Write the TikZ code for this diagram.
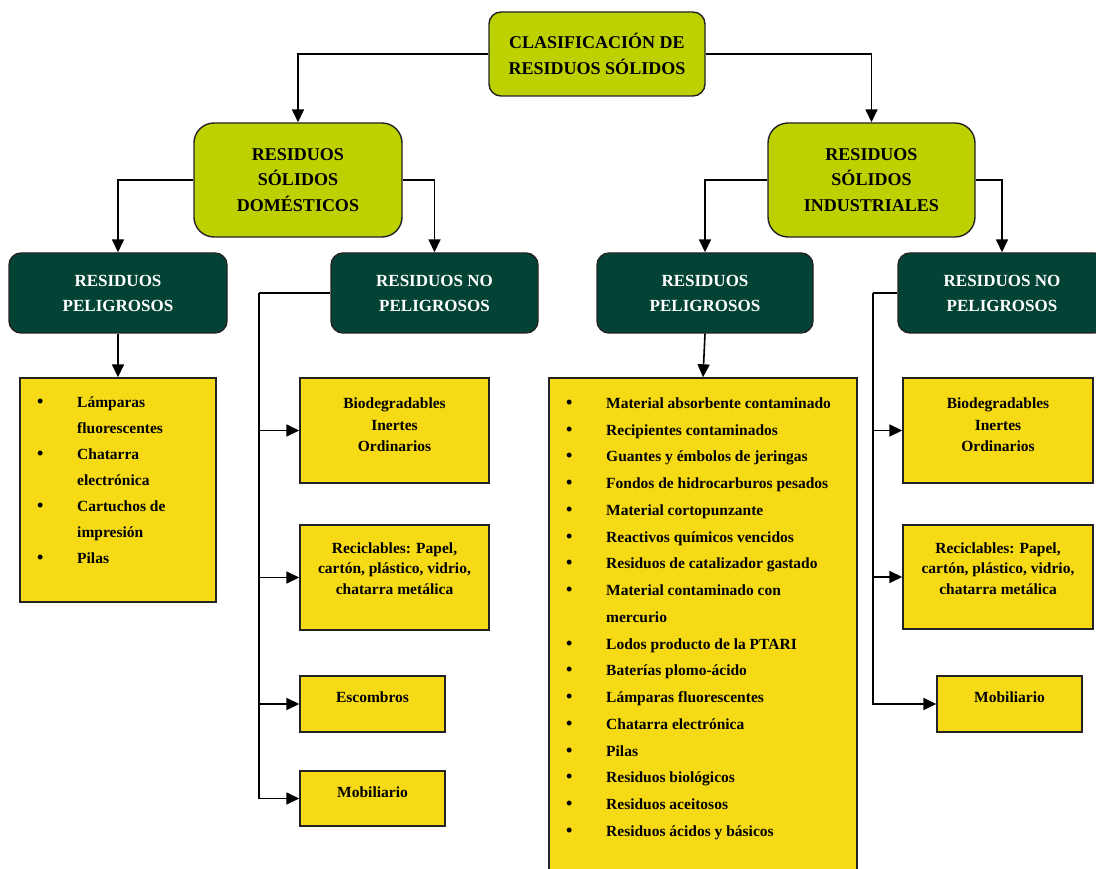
\documentclass[tikz,border=0pt]{standalone}
\usepackage{fontspec}
\setmainfont{Liberation Serif}
\usetikzlibrary{arrows.meta}
\definecolor{mylime}{RGB}{189,209,0}
\definecolor{mydark}{RGB}{3,67,54}
\definecolor{myyellow}{RGB}{246,218,21}
\definecolor{myborder}{RGB}{35,35,35}
\tikzset{
  base/.style={draw=myborder, line width=1.4pt, inner sep=0pt},
  headbox/.style={base, fill=mylime, rounded corners=12pt, align=center,
    font=\fontsize{18}{25.5}\selectfont\bfseries},
  darkbox/.style={base, fill=mydark, rounded corners=12pt, align=center, text=white,
    font=\fontsize{17}{25}\selectfont\bfseries},
  ybox/.style={base, fill=myyellow},
  ytext/.style={inner sep=0pt, align=center, font=\fontsize{15.5}{21.5}\selectfont\bfseries},
  ylist/.style={inner sep=0pt, align=left, anchor=north west},
  conn/.style={line width=1.6pt, -{Triangle[length=13pt,width=12pt]}},
  plain/.style={line width=1.6pt}
}
\newcommand{\bul}{\makebox[40pt][l]{\fontsize{18}{18}\selectfont\textbullet}}
\begin{document}
\begin{tikzpicture}[x=1pt,y=-1pt]
\useasboundingbox (0,0) rectangle (1096,869);
% header boxes
\node[headbox, minimum width=216pt, minimum height=84pt] (top) at (597,54) {CLASIFICACIÓN DE\\RESIDUOS SÓLIDOS};
\node[headbox, rounded corners=20pt, minimum width=208pt, minimum height=114pt] (dom) at (298,180) {RESIDUOS\\SÓLIDOS\\DOMÉSTICOS};
\node[headbox, rounded corners=20pt, minimum width=207pt, minimum height=114pt] (ind) at (871.5,180) {RESIDUOS\\SÓLIDOS\\INDUSTRIALES};
% dark boxes
\node[darkbox, minimum width=218pt, minimum height=80pt] (rpL) at (118,293) {RESIDUOS\\PELIGROSOS};
\node[darkbox, minimum width=207pt, minimum height=80pt] (rnpL) at (434.5,293) {RESIDUOS NO\\PELIGROSOS};
\node[darkbox, minimum width=216pt, minimum height=80pt] (rpR) at (705,293) {RESIDUOS\\PELIGROSOS};
\node[darkbox, minimum width=208pt, minimum height=80pt] (rnpR) at (1002,293) {RESIDUOS NO\\PELIGROSOS};
% yellow boxes
\node[ybox, minimum width=196pt, minimum height=224pt] (listL) at (118,490) {};
\node[ylist, font=\fontsize{15.5}{26}\selectfont\bfseries] (listLt) at (37,397) {%
\bul Lámparas\\
\hspace*{40pt}fluorescentes\\
\bul Chatarra\\
\hspace*{40pt}electrónica\\
\bul Cartuchos de\\
\hspace*{40pt}impresión\\
\bul Pilas};
\node[ybox, minimum width=189pt, minimum height=105pt] (bioL) at (394.5,430.5) {};
\node[ytext] (bioLt) at (394.5,425) {Biodegradables\\Inertes\\Ordinarios};
\node[ybox, minimum width=189pt, minimum height=105pt] (recL) at (394.5,577.5) {};
\node[ytext, font=\fontsize{15.5}{20.5}\selectfont\bfseries] (recLt) at (394.5,568.5) {Reciclables: Papel,\\cartón, plástico, vidrio,\\chatarra metálica};
\node[ybox, minimum width=145pt, minimum height=56pt] (escL) at (372.5,704) {};
\node[ytext] (escLt) at (372.5,697) {Escombros};
\node[ybox, minimum width=145pt, minimum height=55pt] (mobL) at (372.5,798.5) {};
\node[ytext] (mobLt) at (372.5,792.5) {Mobiliario};
\node[ybox, minimum width=308pt, minimum height=502pt] (listR) at (703,629) {};
\node[ylist, font=\fontsize{15.5}{26.75}\selectfont\bfseries] (listRt) at (566,397.5) {%
\bul Material absorbente contaminado\\
\bul Recipientes contaminados\\
\bul Guantes y émbolos de jeringas\\
\bul Fondos de hidrocarburos pesados\\
\bul Material cortopunzante\\
\bul Reactivos químicos vencidos\\
\bul Residuos de catalizador gastado\\
\bul Material contaminado con\\
\hspace*{40pt}mercurio\\
\bul Lodos producto de la PTARI\\
\bul Baterías plomo-ácido\\
\bul Lámparas fluorescentes\\
\bul Chatarra electrónica\\
\bul Pilas\\
\bul Residuos biológicos\\
\bul Residuos aceitosos\\
\bul Residuos ácidos y básicos};
\node[ybox, minimum width=190pt, minimum height=105pt] (bioR) at (998,430.5) {};
\node[ytext] (bioRt) at (998,425) {Biodegradables\\Inertes\\Ordinarios};
\node[ybox, minimum width=190pt, minimum height=104pt] (recR) at (998,577) {};
\node[ytext, font=\fontsize{15.5}{20.5}\selectfont\bfseries] (recRt) at (998,568.5) {Reciclables: Papel,\\cartón, plástico, vidrio,\\chatarra metálica};
\node[ybox, minimum width=145pt, minimum height=56pt] (mobR) at (1009.5,704) {};
\node[ytext] (mobRt) at (1009.5,697.5) {Mobiliario};
% connectors
\draw[conn] (top.west) -| (dom.north);
\draw[conn] (top.east) -| (ind.north);
\draw[conn] (dom.west) -| (rpL.north);
\draw[conn] (dom.east) -| (rnpL.north);
\draw[conn] (ind.west) -| (rpR.north);
\draw[conn] (ind.east) -| (rnpR.north);
\draw[conn] (rpL.south) -- (listL.north);
\draw[conn] (rpR.south) -- (listR.north);
% left bus
\coordinate (busL) at (259,293);
\draw[plain] (rnpL.west) -- (busL);
\draw[conn] (busL) |- (mobL.west);
\draw[conn] (busL |- bioL.west) -- (bioL.west);
\draw[conn] (busL |- recL.west) -- (recL.west);
\draw[conn] (busL |- escL.west) -- (escL.west);
% right bus
\coordinate (busR) at (873,293);
\draw[plain] (rnpR.west) -- (busR);
\draw[conn] (busR) |- (mobR.west);
\draw[conn] (busR |- bioR.west) -- (bioR.west);
\draw[conn] (busR |- recR.west) -- (recR.west);
\end{tikzpicture}
\end{document}
